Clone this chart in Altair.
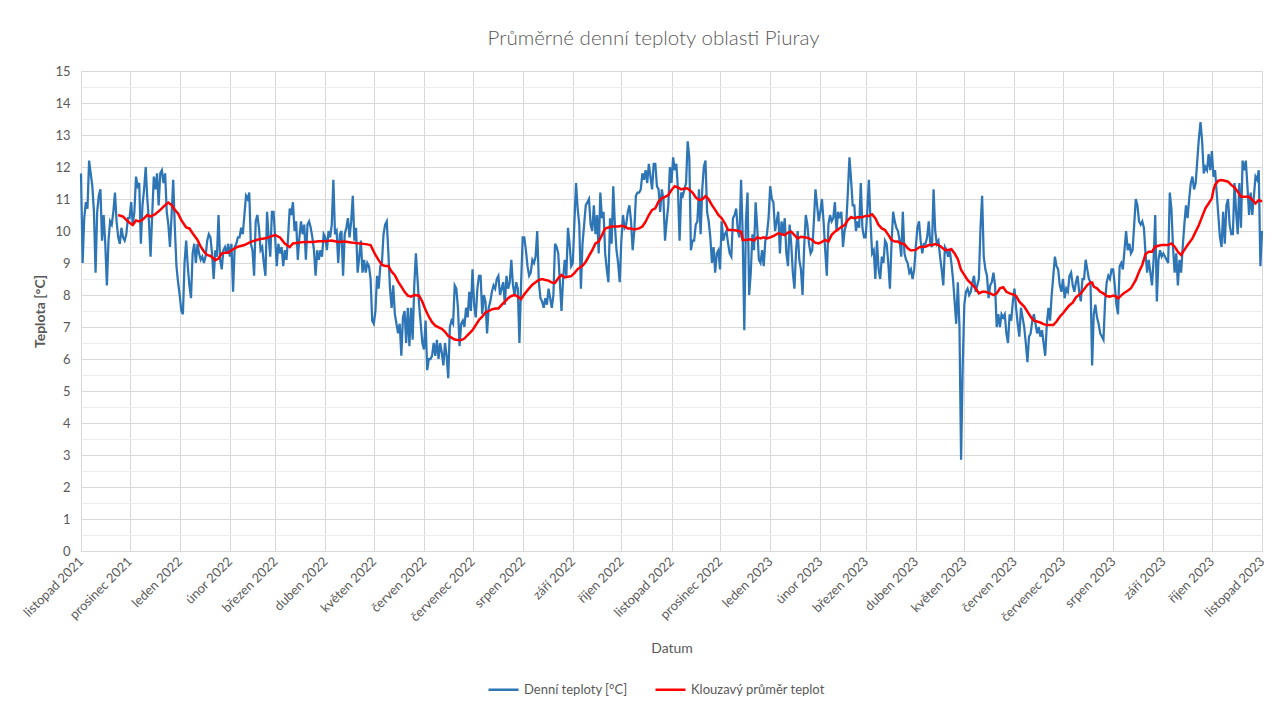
import json
import altair as alt
import pandas as pd

# ---------------- data ----------------
chart_title = "Průměrné denní teploty oblasti Piuray"
series_names = ["Denní teploty [°C]", "Klouzavý průměr teplot"]
series_colors = ["#2e75b6", "#ff0000"]
month_names = ["leden", "únor", "březen", "duben", "květen", "červen",
               "červenec", "srpen", "září", "říjen", "listopad", "prosinec"]
start_date = "2021-11-01"

# daily mean temperatures, one value per day from 2021-11-01 (one line per month)
daily_temps = [
    11.8, 9.0, 10.4, 10.9, 10.7, 12.2, 11.8, 11.4, 10.6, 8.7, 10.6, 11.1, 11.3, 9.7, 10.5, 9.6, 8.3, 9.7, 10.3, 10.2, 10.6, 11.2, 10.3, 9.8, 9.6, 10.1, 9.8, 9.7, 9.9, 10.4,
    10.4, 10.9, 10.2, 10.6, 11.7, 11.4, 11.5, 9.6, 10.8, 11.3, 12.0, 11.0, 10.3, 9.2, 10.5, 11.7, 11.3, 11.8, 10.8, 11.8, 11.9, 11.5, 11.8, 10.6, 10.2, 9.5, 10.5, 11.6, 10.1, 8.9, 8.4,
    8.0, 7.5, 7.4, 9.0, 9.7, 8.9, 8.3, 7.9, 9.3, 9.6, 9.0, 9.6, 9.3, 9.1, 9.2, 9.0, 9.2, 9.7, 9.9, 9.8, 9.3, 8.5, 9.4, 9.2, 10.5, 9.1, 8.8, 9.4, 9.5, 9.3, 9.6,
    9.2, 9.6, 8.1, 9.5, 9.6, 9.8, 9.8, 10.1, 9.9, 10.5, 11.1, 11.0, 11.2, 9.6, 9.4, 8.6, 10.3, 10.5, 10.1, 9.4, 9.5, 9.0, 8.6, 10.6, 9.8, 9.2, 10.6, 10.6,
    9.8, 8.9, 9.6, 9.3, 9.5, 8.9, 9.4, 9.1, 9.8, 10.7, 10.5, 10.9, 10.0, 10.3, 9.1, 9.8, 10.3, 9.9, 10.2, 9.1, 10.2, 10.3, 10.1, 9.8, 9.4, 8.6, 9.4, 9.1, 9.4, 9.2, 9.9,
    9.8, 9.4, 10.0, 9.8, 10.2, 11.6, 9.9, 10.0, 9.0, 9.9, 10.0, 8.6, 9.9, 10.1, 10.4, 9.8, 10.3, 11.1, 9.7, 10.1, 8.7, 9.2, 9.7, 8.7, 9.1, 8.7, 9.0, 8.9, 8.5, 7.2,
    7.1, 7.5, 8.6, 8.2, 8.9, 9.0, 9.9, 10.2, 10.3, 9.3, 8.2, 7.6, 8.3, 7.4, 7.1, 6.8, 7.1, 6.1, 7.3, 7.5, 6.5, 7.6, 6.4, 7.6, 6.6, 8.3, 9.3, 8.5, 7.7, 7.1, 6.5,
    6.3, 7.2, 5.65, 6.0, 6.0, 6.1, 6.5, 6.1, 6.6, 6.0, 6.5, 6.2, 5.8, 6.5, 6.1, 5.4, 7.0, 7.2, 7.1, 8.3, 8.2, 7.6, 6.4, 7.1, 7.2, 7.0, 7.6, 7.3, 8.1, 7.5,
    8.8, 7.7, 7.3, 8.2, 8.6, 8.6, 7.4, 8.0, 7.8, 6.8, 7.6, 7.8, 8.1, 8.3, 8.2, 8.5, 8.6, 8.0, 8.2, 8.4, 7.7, 8.6, 8.2, 8.4, 9.1, 8.3, 8.0, 8.4, 8.2, 6.5, 8.3,
    9.8, 9.8, 9.4, 8.9, 8.6, 8.7, 9.1, 9.0, 9.2, 10.0, 8.4, 7.9, 7.8, 7.6, 7.9, 7.7, 8.2, 7.9, 7.6, 8.0, 9.6, 9.5, 9.3, 8.4, 7.5, 8.5, 9.1, 8.6, 10.1, 9.6, 8.9,
    9.0, 10.3, 11.5, 10.7, 10.2, 8.2, 9.6, 10.2, 10.8, 10.9, 11.0, 10.2, 10.0, 10.8, 9.9, 10.5, 9.3, 11.2, 10.4, 10.6, 9.3, 8.8, 8.4, 10.4, 9.6, 11.4, 10.2, 9.4, 9.0, 8.4,
    9.7, 10.5, 10.1, 10.2, 10.6, 10.8, 10.3, 9.4, 10.0, 11.1, 11.2, 11.2, 11.3, 11.8, 11.6, 11.9, 11.5, 12.1, 11.7, 11.3, 12.1, 12.1, 11.4, 11.3, 10.6, 11.3, 11.0, 9.7, 10.3, 10.8, 12.0,
    11.5, 12.3, 11.9, 12.1, 11.3, 9.7, 11.2, 11.1, 11.3, 11.5, 12.8, 12.3, 9.4, 9.7, 9.7, 10.2, 10.3, 11.3, 9.9, 11.3, 12.0, 12.2, 10.6, 10.3, 9.8, 9.0, 9.5, 8.7, 9.3, 9.4,
    8.8, 10.3, 9.7, 9.9, 10.0, 9.6, 9.3, 9.2, 10.4, 10.5, 10.7, 10.0, 9.8, 11.6, 9.9, 6.9, 10.3, 11.2, 8.0, 8.7, 9.9, 9.4, 10.9, 10.1, 9.1, 9.0, 9.4, 8.9, 9.7, 9.9, 10.4,
    11.4, 11.0, 10.9, 10.0, 10.3, 10.6, 9.3, 10.3, 9.9, 10.4, 9.3, 8.9, 10.2, 9.6, 8.7, 8.2, 9.4, 10.0, 9.1, 8.8, 8.0, 9.5, 10.5, 10.2, 9.6, 9.3, 9.4, 10.3, 11.3, 10.8, 10.3,
    10.6, 11.0, 10.3, 9.4, 8.6, 10.2, 10.5, 10.3, 10.4, 10.9, 10.0, 10.6, 10.4, 10.6, 9.5, 10.0, 10.2, 11.2, 12.3, 11.6, 10.8, 10.8, 10.0, 10.3, 10.1, 11.5, 10.1, 9.8,
    9.8, 10.6, 11.6, 10.3, 9.3, 9.4, 8.5, 9.7, 8.8, 8.5, 9.2, 9.0, 9.7, 9.6, 9.0, 8.2, 9.6, 10.6, 10.3, 10.1, 10.0, 9.7, 9.2, 10.6, 9.3, 9.1, 9.0, 8.7, 8.8, 8.5, 8.8,
    9.5, 10.1, 10.3, 9.7, 9.3, 9.6, 9.6, 9.8, 10.3, 9.6, 9.5, 11.3, 10.0, 9.6, 9.7, 9.2, 8.8, 8.3, 9.5, 9.4, 9.2, 9.4, 9.0, 8.5, 7.8, 7.1, 8.4, 7.0, 2.85, 5.8,
    7.7, 8.1, 8.2, 8.0, 8.1, 8.4, 8.6, 8.1, 8.3, 8.5, 10.1, 11.1, 9.2, 8.8, 8.6, 7.9, 8.3, 8.4, 8.7, 8.3, 7.0, 7.4, 7.0, 7.4, 7.3, 7.4, 6.8, 6.5, 7.4, 7.2, 7.8,
    8.2, 7.6, 7.1, 6.7, 7.6, 7.3, 7.0, 6.5, 5.9, 6.7, 6.8, 7.2, 7.4, 7.1, 6.8, 7.0, 6.7, 6.9, 6.5, 6.1, 7.1, 7.6, 7.2, 8.0, 8.6, 9.2, 8.9, 8.8, 8.3, 8.1,
    8.5, 7.9, 8.2, 8.1, 8.6, 8.7, 8.3, 8.1, 8.4, 8.6, 8.1, 7.8, 8.5, 8.5, 9.1, 8.8, 8.5, 8.4, 5.8, 7.4, 7.7, 7.3, 7.1, 6.8, 6.7, 6.6, 7.8, 8.4, 8.6, 8.5, 8.8,
    8.8, 8.3, 7.7, 7.4, 8.9, 9.0, 8.8, 9.4, 10.0, 9.4, 9.6, 9.3, 9.4, 10.2, 11.0, 10.8, 10.3, 10.2, 10.3, 10.1, 9.3, 8.7, 9.1, 8.7, 8.3, 9.1, 10.5, 7.8, 9.1, 9.4, 9.2,
    9.3, 9.2, 9.1, 9.0, 11.2, 10.7, 9.5, 8.7, 9.3, 8.3, 9.1, 8.7, 9.5, 10.2, 10.8, 10.4, 11.0, 11.5, 11.7, 11.3, 11.5, 12.2, 12.9, 13.4, 12.8, 11.8, 12.0, 11.9, 12.4, 11.9,
    12.5, 11.7, 11.9, 11.2, 10.5, 9.8, 9.5, 10.6, 9.6, 10.8, 11.0, 10.2, 9.9, 9.9, 11.5, 10.6, 9.9, 11.5, 10.1, 12.2, 11.9, 12.2, 11.4, 10.5, 11.2, 10.5, 11.1, 11.7, 11.6, 11.9, 8.9,
    10.0,
]

# moving average: day offset from start_date and value
ma_day = [
    23, 26, 28, 30, 32, 34, 36, 38, 41, 43, 46, 49, 52, 54, 56, 58, 60, 62, 65, 67, 69, 72, 74, 76, 78, 80, 82, 83, 85, 87,
    89, 91, 93, 97, 101, 105, 110, 114, 118, 120, 123, 126, 129, 131, 134, 138, 143, 147, 151, 155, 159, 163, 167, 171, 176,
    179, 182, 184, 186, 188, 190, 192, 194, 196, 198, 200, 202, 204, 206, 209, 211, 213, 215, 217, 219, 221, 223, 225, 227,
    229, 231, 233, 235, 237, 239, 242, 244, 246, 248, 250, 252, 254, 256, 258, 260, 262, 264, 266, 268, 270, 272, 274, 277,
    279, 281, 283, 285, 287, 289, 291, 293, 295, 297, 299, 301, 303, 305, 307, 310, 312, 314, 316, 318, 320, 322, 324, 326,
    328, 330, 332, 334, 336, 338, 340, 342, 345, 347, 349, 351, 353, 355, 357, 359, 361, 363, 365, 367, 369, 371, 373, 375,
    378, 380, 382, 384, 386, 388, 390, 392, 394, 396, 398, 400, 403, 406, 408, 409, 411, 414, 416, 418, 420, 422, 424, 427,
    429, 431, 433, 435, 437, 439, 441, 443, 445, 448, 450, 452, 454, 456, 458, 460, 462, 464, 466, 468, 470, 472, 474, 476,
    478, 480, 483, 485, 487, 489, 491, 493, 495, 497, 499, 501, 503, 505, 507, 509, 511, 513, 516, 518, 520, 522, 524, 526,
    528, 530, 532, 534, 536, 538, 540, 542, 544, 546, 548, 551, 553, 555, 557, 559, 562, 564, 566, 568, 570, 572, 574, 576,
    578, 580, 583, 585, 587, 589, 591, 593, 595, 597, 599, 601, 603, 605, 607, 609, 611, 613, 615, 618, 620, 622, 624, 625,
    626, 628, 630, 632, 634, 636, 638, 640, 641, 643, 645, 647, 649, 652, 654, 656, 658, 660, 662, 664, 666, 668, 670, 672,
    674, 676, 678, 680, 682, 684, 687, 689, 691, 693, 695, 697, 699, 700, 701, 703, 705, 707, 709, 711, 713, 715, 717, 720,
    722, 724, 726, 728, 730,
]
ma_val = [
    10.50, 10.45, 10.35, 10.26, 10.19, 10.33, 10.30, 10.35, 10.50, 10.45, 10.53, 10.66, 10.81, 10.89, 10.81, 10.66, 10.55, 10.34, 10.11, 10.08, 9.93, 9.72, 9.51, 9.36, 9.25, 9.22, 9.14, 9.09, 9.14, 9.30,
    9.32, 9.32, 9.40, 9.51, 9.56, 9.66, 9.74, 9.77, 9.84, 9.87, 9.80, 9.61, 9.50, 9.61, 9.63, 9.66, 9.66, 9.68, 9.68, 9.70, 9.66, 9.67, 9.64, 9.62, 9.59,
    9.56, 9.25, 9.09, 8.94, 8.91, 8.91, 8.73, 8.62, 8.42, 8.26, 8.10, 7.98, 7.95, 8.00, 7.98, 7.79, 7.53, 7.32, 7.15, 7.04, 6.99, 6.94, 6.85, 6.72,
    6.67, 6.61, 6.59, 6.59, 6.64, 6.75, 6.90, 7.06, 7.22, 7.32, 7.45, 7.50, 7.55, 7.58, 7.58, 7.69, 7.79, 7.90, 7.97, 8.00, 7.95, 7.87, 8.02, 8.21,
    8.32, 8.40, 8.47, 8.50, 8.47, 8.45, 8.39, 8.38, 8.52, 8.63, 8.55, 8.57, 8.59, 8.68, 8.81, 8.91, 9.04, 9.22, 9.40, 9.61, 9.67, 9.87, 10.08, 10.11,
    10.14, 10.14, 10.14, 10.16, 10.14, 10.08, 10.08, 10.05, 10.08, 10.14, 10.29, 10.50, 10.66, 10.71, 10.92, 11.02, 11.07, 11.12, 11.28, 11.40, 11.36, 11.30, 11.33, 11.33,
    11.20, 11.05, 10.97, 10.99, 11.09, 10.99, 10.81, 10.66, 10.50, 10.40, 10.24, 10.03, 10.03, 10.01, 9.98, 9.72, 9.72, 9.74, 9.70, 9.80, 9.77, 9.80, 9.77, 9.82,
    9.87, 9.93, 9.90, 9.87, 9.95, 9.98, 9.87, 9.77, 9.82, 9.80, 9.77, 9.72, 9.63, 9.61, 9.66, 9.72, 9.67, 9.88, 9.98, 10.05, 10.13, 10.18, 10.34, 10.43,
    10.40, 10.43, 10.43, 10.47, 10.47, 10.52, 10.40, 10.19, 10.08, 10.03, 9.88, 9.72, 9.67, 9.67, 9.61, 9.59, 9.46, 9.39, 9.41, 9.49, 9.51, 9.51, 9.56, 9.56,
    9.59, 9.56, 9.49, 9.41, 9.41, 9.43, 9.30, 9.12, 8.78, 8.63, 8.47, 8.32, 8.21, 8.05, 8.10, 8.10, 8.05, 8.00, 8.05, 8.21, 8.24, 8.10, 8.05, 8.02,
    7.97, 7.79, 7.64, 7.48, 7.32, 7.20, 7.17, 7.14, 7.09, 7.06, 7.06, 7.06, 7.17, 7.32, 7.43, 7.56, 7.68, 7.76, 7.93, 8.05, 8.18, 8.31, 8.39, 8.39,
    8.26, 8.21, 8.10, 8.05, 7.97, 7.95, 7.98, 7.95, 7.89, 7.99, 8.07, 8.13, 8.21, 8.47, 8.73, 8.94, 9.28, 9.35, 9.35, 9.51, 9.54, 9.56, 9.56, 9.56,
    9.61, 9.51, 9.35, 9.25, 9.41, 9.56, 9.77, 9.98, 10.19, 10.45, 10.71, 10.86, 11.02, 11.28, 11.44, 11.57, 11.59, 11.57, 11.54, 11.44, 11.36, 11.23, 11.07, 11.07,
    11.07, 10.97, 10.86, 10.97, 10.92,
]

# ---------------- tables ----------------
start = pd.Timestamp(start_date)
daily_df = pd.DataFrame({
    "datum": pd.date_range(start, periods=len(daily_temps), freq="D").strftime("%Y-%m-%d"),
    "teplota": daily_temps,
    "serie": series_names[0],
})
ma_df = pd.DataFrame({
    "datum": (start + pd.to_timedelta(ma_day, unit="D")).strftime("%Y-%m-%d"),
    "teplota": ma_val,
    "serie": series_names[1],
})
end = start + pd.Timedelta(days=len(daily_temps) - 1)
month_starts = pd.date_range(start, end, freq="MS")
tick_values = [alt.DateTime(year=int(d.year), month=int(d.month), date=1, utc=True) for d in month_starts]

FONT = "Lato"
TXT = "#595959"
label_expr = json.dumps(month_names, ensure_ascii=False) + "[utcmonth(datum.value)] + ' ' + utcyear(datum.value)"

x_enc = alt.X(
    "datum:T",
    title="Datum",
    scale=alt.Scale(type="utc", nice=False,
                    domain=[alt.DateTime(year=int(start.year), month=int(start.month), date=int(start.day), utc=True),
                            alt.DateTime(year=int(end.year), month=int(end.month), date=int(end.day), utc=True)]),
    axis=alt.Axis(values=tick_values, labelExpr=label_expr, grid=True, gridColor="#d9d9d9",
                  domain=True, domainColor="#d9d9d9", ticks=False, labelAngle=-45,
                  labelAlign="right", labelBaseline="middle", labelPadding=8,
                  labelFontSize=13, labelColor=TXT, labelFont=FONT, labelOverlap=False,
                  labelFlush=False, titleFont=FONT, titleFontSize=14, titleFontWeight="normal",
                  titleColor=TXT, titlePadding=18),
)
y_scale = alt.Scale(domain=[0, 15], nice=False)
color_enc = alt.Color(
    "serie:N",
    scale=alt.Scale(domain=series_names, range=series_colors),
    legend=alt.Legend(title=None, orient="none", direction="horizontal", legendX=406, legendY=602,
                      symbolType="stroke", symbolSize=900, symbolStrokeWidth=2.5, labelFont=FONT,
                      labelFontSize=13, labelColor=TXT, columnPadding=22, labelOffset=4, padding=0),
)

minor = alt.Chart(daily_df).mark_line(opacity=0).encode(
    x=x_enc,
    y=alt.Y("teplota:Q", scale=y_scale,
            axis=alt.Axis(orient="left", values=[i + 0.5 for i in range(15)], grid=True,
                          gridColor="#ececec", labels=False, ticks=False, domain=False, title=None)),
)
blue = alt.Chart(daily_df).mark_line(strokeWidth=2.25).encode(
    x=x_enc,
    y=alt.Y("teplota:Q", scale=y_scale,
            axis=alt.Axis(orient="left", values=list(range(16)), grid=True, gridColor="#d9d9d9",
                          domain=False, ticks=False, labelPadding=11, labelFont=FONT, labelFontSize=13,
                          labelColor=TXT, title="Teplota [°C]", titleFont=FONT, titleFontSize=14,
                          titleFontWeight="bold", titleColor=TXT, titlePadding=7)),
    color=color_enc,
)
red = alt.Chart(ma_df).mark_line(strokeWidth=2.5).encode(
    x=x_enc,
    y=alt.Y("teplota:Q", scale=y_scale, axis=None),
    color=color_enc,
)

chart = (
    alt.layer(minor, blue, red)
    .resolve_axis(y="independent")
    .properties(
        width=1181, height=480,
        autosize=alt.AutoSizeParams(type="none"),
        padding={"left": 73, "top": 63, "right": 14, "bottom": 146},
        title=alt.TitleParams(chart_title, font=FONT, fontSize=20.5, fontWeight=300,
                              color=TXT, anchor="middle", offset=16, dx=-18),
        background="white",
    )
    .configure_view(strokeWidth=0)
)

chart.save("out.html", embed_options={"renderer": "svg", "actions": False})
